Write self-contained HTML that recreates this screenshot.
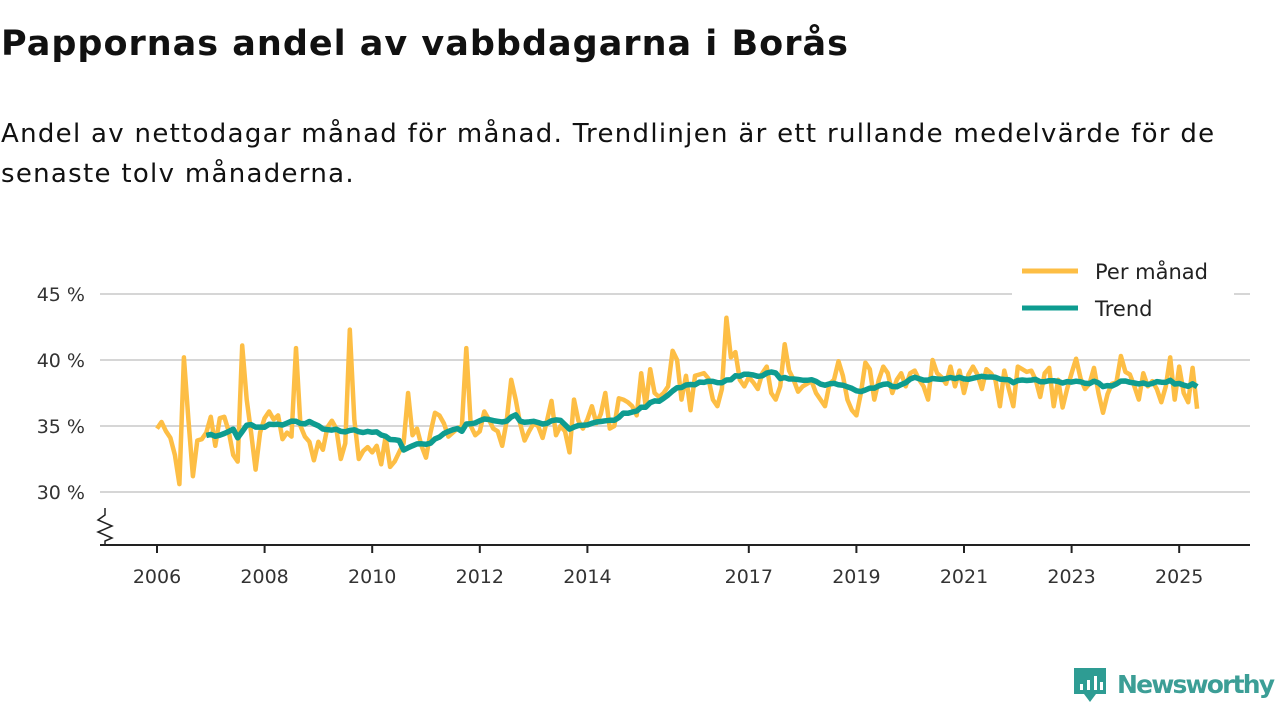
<!DOCTYPE html>
<html><head><meta charset="utf-8">
<style>
body{margin:0;width:1280px;height:720px;background:#fff;font-family:"DejaVu Sans","Liberation Sans",sans-serif;overflow:hidden;position:relative}
h1{position:absolute;left:1px;top:24px;margin:0;font-size:35px;letter-spacing:1px;font-weight:bold;color:#111;white-space:nowrap}
p{position:absolute;left:1px;top:114px;margin:0;font-size:26px;letter-spacing:1.3px;line-height:40px;color:#111;width:1270px;white-space:nowrap}
svg{position:absolute;left:0;top:0;font-family:"DejaVu Sans","Liberation Sans",sans-serif}
</style></head><body>
<h1>Pappornas andel av vabbdagarna i Borås</h1>
<p>Andel av nettodagar månad för månad. Trendlinjen är ett rullande medelvärde för de<br>senaste tolv månaderna.</p>
<svg id="c" width="1280" height="720"></svg>
<script>
const monthly = [
34.8,35.3,34.6,34.1,32.8,30.6,40.2,35.5,31.2,33.9,34.0,34.5,
35.7,33.5,35.6,35.7,34.6,32.8,32.3,41.1,37.0,34.5,31.7,34.5,
35.6,36.1,35.5,35.8,34.0,34.5,34.2,40.9,35.0,34.2,33.8,32.4,
33.8,33.2,34.9,35.4,34.8,32.5,33.7,42.3,35.5,32.5,33.1,33.4,
33.0,33.5,32.1,34.2,31.9,32.3,33.0,33.7,37.5,34.3,34.8,33.5,
32.6,34.5,36.0,35.8,35.2,34.2,34.5,34.8,35.0,40.9,35.0,34.3,
34.6,36.1,35.5,34.8,34.6,33.5,35.4,38.5,37.0,35.2,33.9,34.6,
35.2,35.0,34.1,35.4,36.9,34.3,35.0,34.6,33.0,37.0,35.4,34.8,
35.5,36.5,35.2,35.9,37.5,34.8,35.0,37.1,37.0,36.8,36.5,35.8,
39.0,36.5,39.3,37.5,37.2,37.5,38.0,40.7,40.0,37.0,38.8,36.2,
38.8,38.9,39.0,38.6,37.0,36.5,37.8,43.2,40.2,40.6,38.5,38.0,
38.7,38.3,37.8,39.0,39.5,37.5,37.0,38.0,41.2,39.2,38.5,37.6,
38.0,38.2,38.4,37.5,37.0,36.5,38.2,38.5,39.9,38.8,37.0,36.2,
35.8,37.5,39.8,39.3,37.0,38.5,39.5,39.0,37.5,38.5,39.0,38.0,
39.0,39.2,38.5,38.0,37.0,40.0,39.0,38.7,38.2,39.5,38.0,39.2,
37.5,38.9,39.5,38.9,37.8,39.3,39.0,38.5,36.5,39.2,37.8,36.5,
39.5,39.3,39.1,39.2,38.5,37.2,39.0,39.4,36.5,38.5,36.4,37.8,
39.0,40.1,38.6,37.8,38.2,39.4,37.5,36.0,37.4,38.2,38.3,40.3,
39.1,38.9,38.0,37.0,39.0,38.0,38.4,37.8,36.8,38.0,40.2,37.0,
39.5,37.5,36.8,39.4,36.3];
const startYear = 2006;
const yTicks = [30,35,40,45];
const xTickYears = [2006,2008,2010,2012,2014,2017,2019,2021,2023,2025];

const svg=document.getElementById('c');
const NS='http://www.w3.org/2000/svg';
const X=t=>157+(t-2006)*53.8;
const Y=v=>360-(v-40)*13.2;
function mk(tag,attrs,txt){const e=document.createElementNS(NS,tag);for(const k in attrs)e.setAttribute(k,attrs[k]);if(txt!==undefined)e.textContent=txt;svg.appendChild(e);return e;}

yTicks.forEach(v=>{
  const g=mk('line',{x1:100,x2:1250,y1:Y(v),y2:Y(v),stroke:'#d6d6d6','stroke-width':2});
  
  
  const t=mk('text',{x:85,y:Y(v)+7,'text-anchor':'end','font-size':19,fill:'#333'},v+' %');
  
  
});
const ax=mk('line',{x1:100,x2:1250,y1:545,y2:545,stroke:'#222','stroke-width':2});


const zz=mk('path',{d:'M105,508 L105,515 L98,520 L112,526 L98,532 L112,538 L105,541 L105,545',fill:'none',stroke:'#222','stroke-width':1.5});


xTickYears.forEach(y=>{
  const l=mk('line',{x1:X(y),x2:X(y),y1:545,y2:553,stroke:'#222','stroke-width':2});
  
  
  const t=mk('text',{x:X(y),y:583,'text-anchor':'middle','font-size':19,fill:'#333'},y);
  
  
});
const tx=i=>X(startYear+i/12);
let d=monthly.map((v,i)=>(i?'L':'M')+tx(i).toFixed(1)+','+Y(v).toFixed(1)).join(' ');
const pm=mk('path',{d:d,fill:'none',stroke:'#FDBE45','stroke-width':4.5,'stroke-linejoin':'round'});


let td='';
for(let i=11;i<monthly.length;i++){let s=0;for(let j=i-11;j<=i;j++)s+=monthly[j];td+=(i>11?'L':'M')+tx(i).toFixed(1)+','+Y(s/12).toFixed(1)+' ';}
const tr=mk('path',{d:td,fill:'none',stroke:'#0E9C90','stroke-width':5.5,'stroke-linejoin':'round'});


const lb=mk('rect',{x:1012,y:252,width:222,height:72,fill:'#fff'});


[['Per månad','#FDBE45',271],['Trend','#0E9C90',308]].forEach(([n,c,y])=>{
  const l=mk('line',{x1:1022,x2:1078,y1:y,y2:y,stroke:c,'stroke-width':5});
  
  
  const t=mk('text',{x:1095,y:y+8,'font-size':21,fill:'#222'},n);
  
  
});
const ic=mk('path',{d:'M1074,668 h32 v26 h-10 l-6,8 l-6,-8 h-10 z',fill:'#2E9C93'});


[[1080,684,6],[1087,680,10],[1094,676,14],[1100,682,8]].forEach(([x,y,h])=>{
  const b=mk('rect',{x:x,y:y,width:3,height:h,fill:'#fff'});
  
  
});
const lg=mk('text',{x:1117,y:693,'font-size':25,'font-weight':'bold',fill:'#3C9E96',textLength:158},'Newsworthy');


</script>
</body></html>
